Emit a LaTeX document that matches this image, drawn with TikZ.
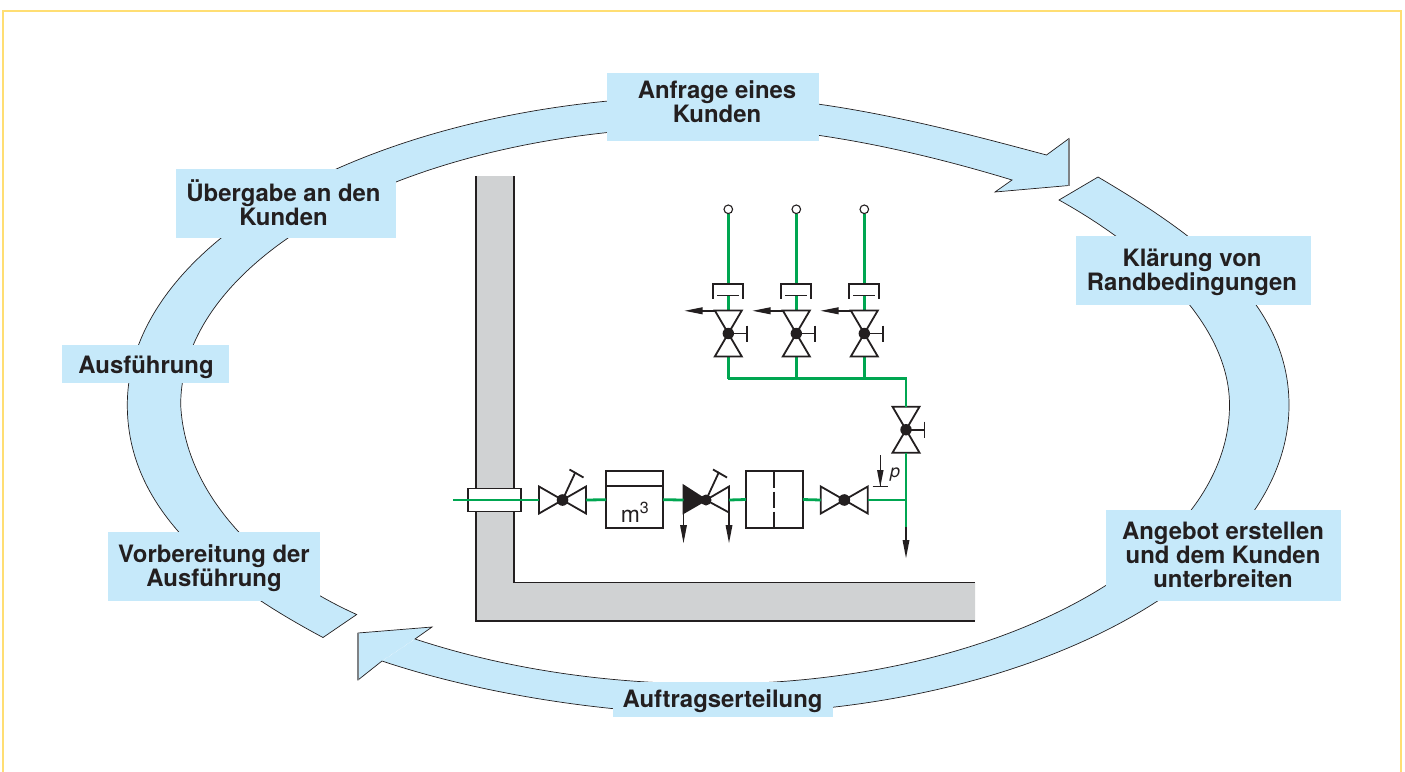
\documentclass[tikz,border=0pt]{standalone}
\usepackage{fontspec}
\setmainfont{TeX Gyre Heros}
\definecolor{blueband}{HTML}{C6E9FA}
\definecolor{ink}{HTML}{231F20}
\definecolor{wallgray}{HTML}{D0D2D3}
\definecolor{pipegreen}{HTML}{00A651}
\definecolor{frameyellow}{HTML}{FFDE73}
\definecolor{edgegray}{HTML}{7F8285}
\tikzset{
  band/.style={fill=blueband,draw=ink,line width=0.7bp,line join=miter},
  label text/.style={inner sep=0pt,align=center,font=\fontsize{24}{24}\selectfont\bfseries,text=ink},
  pipe/.style={draw=pipegreen,line width=2.8bp},
  sym/.style={draw=ink,line width=1.8bp,line join=miter},
  symbox/.style={draw=ink,line width=1.8bp,fill=white,inner sep=0pt,minimum width=57bp,minimum height=57bp,outer sep=0pt},
  ball/.style={fill=ink,draw=none},
  head/.style={fill=ink,draw=none},
  valveh/.pic={
    \coordinate (-l) at (-23.5,0); \coordinate (-r) at (23.5,0); \coordinate (-c) at (0,0);
    \draw[sym,fill=white] (-23.5,-13.5) -- (23.5,13.5) -- (23.5,-13.5) -- (-23.5,13.5) -- cycle;
    \fill[ball] (0,0) circle (5.8);
  },
  valvev/.pic={
    \coordinate (-t) at (0,-23); \coordinate (-b) at (0,23); \coordinate (-c) at (0,0);
    \draw[sym,fill=white] (-13.5,-23) -- (13.5,23) -- (-13.5,23) -- (13.5,-23) -- cycle;
    \fill[ball] (0,0) circle (5.7);
    \draw[sym] (0,0) -- (18.5,0) (18.5,-8) -- (18.5,8);
  },
  slanted handle/.pic={
    \draw[sym] (0,0) -- (13,-28);
    \draw[sym] (7,-30.5) -- (21,-22.5);
  },
  down arrow/.pic={
    \draw[sym] (0,0) -- (0,14);
    \fill[head] (-3.5,12) -- (3.5,12) -- (0,30) -- cycle;
  },
  left arrow/.pic={
    \fill[head] (0,-3.6) -- (0,3.6) -- (-18,0) -- cycle;
  },
  seal/.pic={
    \draw[sym] (-15,14.5) -- (-15,0) -- (15,0) -- (15,14.5);
    \draw[sym] (-11,11.5) -- (11,11.5);
  }
}
\begin{document}
\begin{tikzpicture}[x=1bp,y=-1bp]
\useasboundingbox (0,0) rectangle (1405,771);
% frame
\draw[frameyellow,line width=2bp] (3,772) -- (3,11) -- (1401,11) -- (1401,772);

% left / top arrow
\path[band]
  (356.7,614.5) -- (323,637.5)
  .. controls (200,572) and (127.3,500) .. (127.3,405)
  .. controls (127.3,235.6) and (390.7,96) .. (713,96)
  .. controls (830,96) and (960,132) .. (1046.5,155)
  -- (1069,138.5) -- (1069,185.5) -- (995,192) -- (1012,180)
  .. controls (940,158) and (820,127) .. (713,127)
  .. controls (420,127) and (180.7,252) .. (180.7,405)
  .. controls (185,495) and (262,572) .. (356.7,614.5)
  -- cycle;
\draw[edgegray,line width=1.3bp] (1069,138.5) -- (1069,185.5);

% right / bottom arrow
\path[band]
  (1059,200) -- (1098,177)
  .. controls (1193,233) and (1289,300) .. (1289,405)
  .. controls (1289,575) and (1030,714) .. (713,714)
  .. controls (610,714) and (480,694) .. (382,661)
  -- (358,680) -- (358,633) -- (432,627) -- (415,639)
  .. controls (500,667) and (600,684) .. (713,684)
  .. controls (997,684) and (1229.5,558) .. (1229.5,405)
  .. controls (1229.5,320) and (1140,245) .. (1059,200)
  -- cycle;
\draw[edgegray,line width=1.3bp] (358,633) -- (358,680);
\draw[white,line width=0.4bp,densely dotted] (415,639) -- (382,661);

% labels
\fill[blueband] (607,73) rectangle (819,141);
\fill[blueband] (176,169) rectangle (396,238);
\fill[blueband] (62,345) rectangle (229,383);
\fill[blueband] (108,532) rectangle (320,601);
\fill[blueband] (1076,236) rectangle (1311,305);
\fill[blueband] (1106,510) rectangle (1341,601);
\fill[blueband] (613,682) rectangle (833,717);
\node[label text] (anfrage) at (717,102) {Anfrage eines\\Kunden};
\node[label text] (uebergabe) at (283.5,203) {Übergabe an den\\Kunden};
\node[label text] (ausfuehrung) at (146,367) {Ausführung};
\node[label text] (vorbereitung) at (214,568) {Vorbereitung der\\Ausführung};
\node[label text] (klaerung) at (1192,272) {Klärung von\\Randbedingungen};
\node[label text] (angebot) at (1223,555) {Angebot erstellen\\und dem Kunden\\unterbreiten};
\node[label text] (auftrag) at (722.5,701) {Auftragserteilung};

% wall
\fill[wallgray] (476,176) -- (514,176) -- (514,582.5) -- (975,582.5) -- (975,621) -- (476,621) -- cycle;
\draw[ink,line width=1.8bp] (476,176) -- (476,621) -- (975,621);
\draw[ink,line width=1.8bp] (514,176) -- (514,582.5) -- (975,582.5);

% wall sleeve
\node[draw=ink,line width=1.8bp,fill=white,minimum width=53.6bp,minimum height=23bp,inner sep=0pt,outer sep=0pt] (sleeve) at (494.5,500) {};

% inline symbols
\pic (v1) at (562.5,500) {valveh};
\pic at (v1-c) {slanted handle};
\node[symbox] (meter) at (634.5,499.7) {};
\draw[sym] (meter.west |- 0,486) -- (meter.east |- 0,486);
\node[text=ink,font=\fontsize{23}{23}\selectfont,inner sep=0pt] (m3) at (635,512) {m\textsuperscript{3}};

\coordinate (v2-c) at (706,500);
\coordinate (v2-l) at (683.5,500);
\coordinate (v2-r) at (729,500);
\draw[sym,fill=ink] (683.5,485.5) -- (706,500) -- (683.5,513) -- cycle;
\draw[sym,fill=white] (729,486.5) -- (706,500) -- (729,512.5) -- cycle;
\fill[ball] (v2-c) circle (5.5);
\pic at (v2-c) {slanted handle};
\pic at (683.5,513) {down arrow};
\pic at (729,513) {down arrow};

\node[symbox] (filter) at (774.3,499.5) {};
\draw[sym] (774.3,471) -- (774.3,487.7) (774.3,491.7) -- (774.3,507.7) (774.3,511.7) -- (774.3,528);

\pic (v3) at (844.3,500) {valveh};
\pic (v4) at (906,429.7) {valvev};
\coordinate (tee) at (906,500);
\coordinate (drain) at (906,527);
\coordinate (inlet) at (453,500);
\coordinate (manifold) at (906,378.5);

% risers
\foreach \n/\x in {a/728.3,b/796.3,c/864.3}{
  \coordinate (top\n) at (\x,214);
  \coordinate (seal\n) at (\x,284);
  \coordinate (sealin\n) at (\x,296);
  \coordinate (vt\n) at (\x,311);
  \coordinate (vb\n) at (\x,356);
  \coordinate (bus\n) at (\x,378.5);
  \draw[pipe] (top\n) -- (seal\n);
  \draw[pipe] (sealin\n) -- (vt\n);
  \draw[pipe] (vb\n) -- (bus\n);
  \pic at (\x,333.5) {valvev};
  \pic at (\x,284) {seal};
  \pic at (\x-25.6,310.8) {left arrow};
  \draw[sym] (\x-26,310.8) -- (\x-13.5,310.8);
  \node[circle,draw=ink,line width=1.1bp,fill=white,minimum size=8.6bp,inner sep=0pt] (tap\n) at (\x,209.3) {};
}
\draw[pipe] (busa) -- (manifold) -- (v4-t);

% pipes
\draw[pipe] (inlet) -- (v1-l);
\draw[pipe] (v1-r) -- (meter.west);
\draw[pipe] (meter.east) -- (v2-l);
\draw[pipe] (v2-r) -- (filter.west);
\draw[pipe] (filter.east) -- (v3-l);
\draw[pipe] (v3-r) -- (tee);
\draw[pipe] (v4-b) -- (drain);

% drain arrow
\draw[sym] (drain) -- (906,542);
\fill[head] (902.5,540) -- (909.5,540) -- (906,558) -- cycle;

% pressure tap
\draw[sym,line width=1.2bp] (880.3,455) -- (880.3,486.7);
\fill[head] (877,470) -- (883.6,470) -- (880.3,486.7) -- cycle;
\draw[sym,line width=1.2bp] (872.7,486.7) -- (888.3,486.7);
\node[text=ink,font=\fontsize{18}{18}\selectfont\itshape,inner sep=0pt] (p) at (895,475) {p};
\end{tikzpicture}
\end{document}
